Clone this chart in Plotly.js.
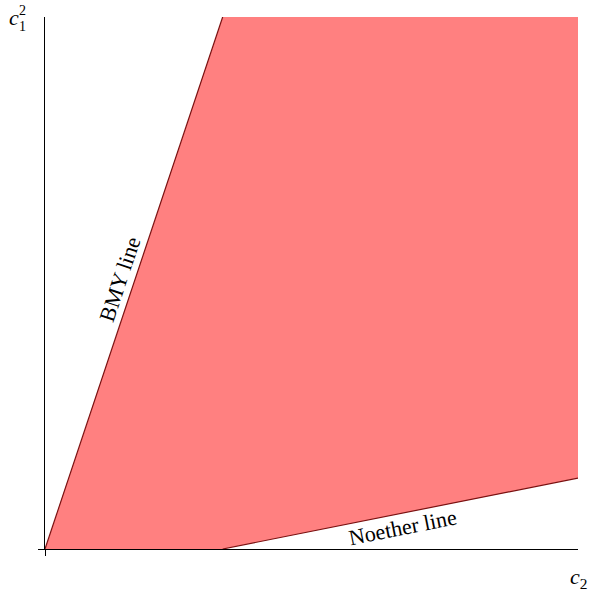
<!DOCTYPE html>
<html>
<head>
<meta charset="utf-8">
<script src="https://cdn.plot.ly/plotly-3.0.1.min.js"></script>
<style>html,body{margin:0;padding:0;background:#fff;}</style>
</head>
<body>
<div id="chart" style="width:594px;height:592px;"></div>
<script>
// BMY line: c1^2 = 3 c2 ; Noether line: c1^2 = (c2 - 1)/5
const bmyX = [0, 1];
const bmyY = [0, 3];
const noetherX = [1, 3];
const noetherY = [0, 0.4];
const xRange = [0, 3];
const yRange = [0, 3];
const labels = {bmy: "BMY line", noether: "Noether line"};

const regionX = [bmyX[0], bmyX[1], xRange[1], noetherX[1], noetherX[0], bmyX[0]];
const regionY = [bmyY[0], bmyY[1], yRange[1], noetherY[1], noetherY[0], bmyY[0]];

const lineColor = "#7a1010";
const serif = "Liberation Serif, Times New Roman, serif";

const traces = [
  {x: regionX, y: regionY, type: "scatter", mode: "lines", fill: "toself",
   fillcolor: "rgb(255,128,128)", line: {width: 0}, hoverinfo: "skip"},
  {x: bmyX, y: bmyY, type: "scatter", mode: "lines", line: {color: lineColor, width: 1.2}, cliponaxis: false},
  {x: noetherX, y: noetherY, type: "scatter", mode: "lines", line: {color: lineColor, width: 1.2}, cliponaxis: false}
];

const layout = {
  width: 594, height: 592,
  margin: {l: 45, r: 16, t: 17, b: 43},
  paper_bgcolor: "#fff", plot_bgcolor: "#fff",
  showlegend: false,
  xaxis: {range: xRange, showgrid: false, zeroline: false, showline: true, linecolor: "#000", linewidth: 1,
          ticks: "outside", tickvals: [0], ticklen: 6, tickcolor: "#000", showticklabels: false, fixedrange: true},
  yaxis: {range: yRange, showgrid: false, zeroline: false, showline: true, linecolor: "#000", linewidth: 1,
          ticks: "outside", tickvals: [0], ticklen: 6, tickcolor: "#000", showticklabels: false, fixedrange: true},
  annotations: [
    {xref: "paper", yref: "paper", x: -0.058, y: 1.0, xanchor: "center", yanchor: "middle",
     text: "<i>c</i>", showarrow: false, font: {family: serif, size: 22, color: "#000"}},
    {xref: "paper", yref: "paper", x: -0.043, y: 1.012, xanchor: "center", yanchor: "middle",
     text: "2", showarrow: false, font: {family: serif, size: 14, color: "#000"}},
    {xref: "paper", yref: "paper", x: -0.043, y: 0.982, xanchor: "center", yanchor: "middle",
     text: "1", showarrow: false, font: {family: serif, size: 14, color: "#000"}},
    {xref: "paper", yref: "paper", x: 1.0, y: -0.055, xanchor: "center", yanchor: "middle",
     text: "<i>c</i><sub>2</sub>", showarrow: false, font: {family: serif, size: 22, color: "#000"}},
    {xref: "x", yref: "y", x: 0.42, y: 1.52, xanchor: "center", yanchor: "middle", textangle: -71.6,
     text: labels.bmy, showarrow: false, font: {family: serif, size: 22, color: "#000"}},
    {xref: "x", yref: "y", x: 2.01, y: 0.12, xanchor: "center", yanchor: "middle", textangle: -11.3,
     text: labels.noether, showarrow: false, font: {family: serif, size: 22, color: "#000"}}
  ]
};

Plotly.newPlot("chart", traces, layout, {displayModeBar: false, staticPlot: true});
</script>
</body>
</html>
